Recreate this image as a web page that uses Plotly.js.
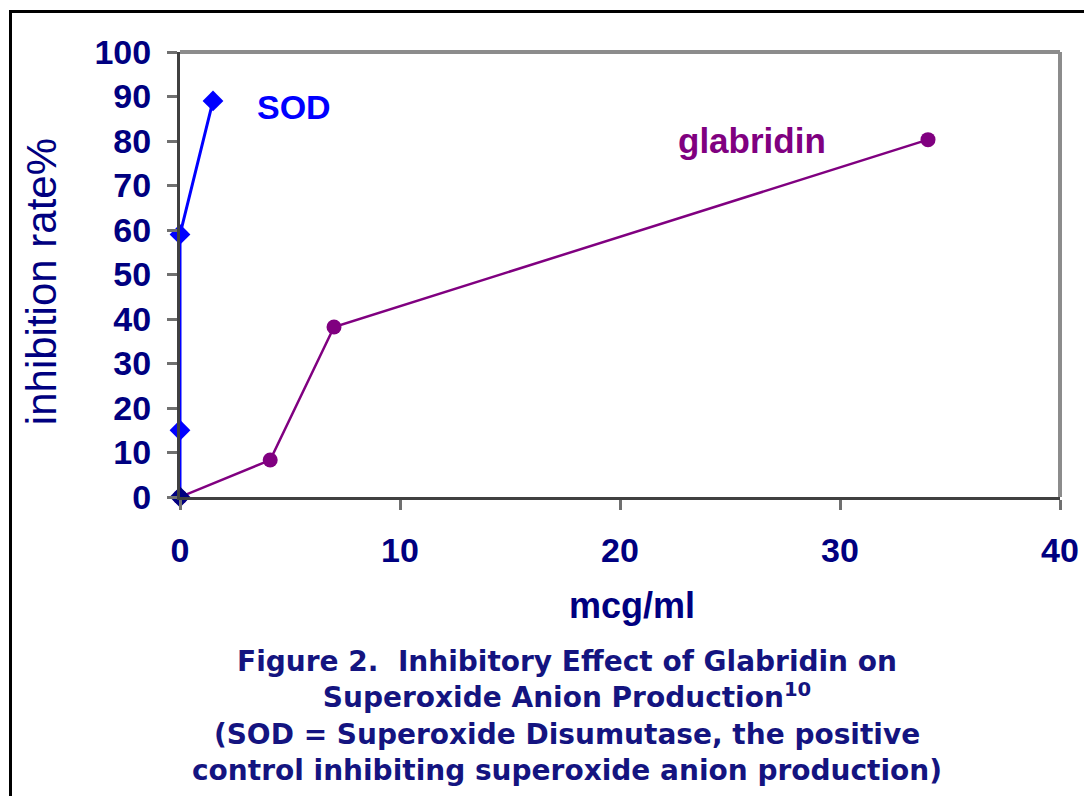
<!DOCTYPE html>
<html>
<head>
<meta charset="utf-8">
<script src="https://cdn.plot.ly/plotly-3.0.1.min.js"></script>
<style>
  html, body { margin: 0; padding: 0; background: #fff; }
  #wrap { position: relative; width: 1084px; height: 796px; overflow: hidden; }
  #chart { position: absolute; left: 0; top: 0; width: 1084px; height: 796px; }
  #frame { position: absolute; left: 9px; top: 10px; width: 1100px; height: 800px;
           border-top: 3px solid #000; border-left: 3px solid #000; pointer-events: none; }
</style>
</head>
<body>
<div id="wrap">
  <div id="chart"></div>
  <div id="frame"></div>
</div>
<script>
// Data
const sodX = [0, 0, 0, 1.5];
const sodY = [0, 15, 59, 89];
const glabX = [0, 4.1, 7, 34];
const glabY = [0, 8.3, 38.2, 80.3];
const xTicks = [0, 10, 20, 30, 40];
const yTicks = [0, 10, 20, 30, 40, 50, 60, 70, 80, 90, 100];

const NAVY = '#000080';
const BLUE = '#0000ff';
const PURPLE = '#800080';

const sodMarkerColors = sodX.map((_, i) => i === 0 ? NAVY : BLUE);

const traces = [
  {
    x: glabX, y: glabY, type: 'scatter', mode: 'lines+markers', name: 'glabridin',
    line: { color: PURPLE, width: 2.5 },
    marker: { color: PURPLE, size: 15, symbol: 'circle' },
    cliponaxis: false
  },
  {
    x: sodX, y: sodY, type: 'scatter', mode: 'lines+markers', name: 'SOD',
    line: { color: BLUE, width: 3 },
    marker: { color: sodMarkerColors, size: 16, symbol: 'diamond' },
    cliponaxis: false
  }
];

const SANS = 'Liberation Sans, Arial, sans-serif';
const tickFont = { family: SANS, size: 34, color: NAVY, weight: 'bold' };

const layout = {
  width: 1084, height: 796,
  margin: { l: 180, r: 24, t: 52, b: 299 },
  paper_bgcolor: '#ffffff', plot_bgcolor: '#ffffff',
  showlegend: false,
  xaxis: {
    range: [0, 40], tickvals: xTicks, ticktext: xTicks.map(String),
    showgrid: false, zeroline: false,
    showline: true, linecolor: '#404040', linewidth: 3,
    ticks: 'outside', ticklen: 10, tickwidth: 3, tickcolor: '#707070',
    tickfont: tickFont, ticklabelstandoff: 11,
    fixedrange: true
  },
  yaxis: {
    range: [0, 100], tickvals: yTicks, ticktext: yTicks.map(String),
    showgrid: false, zeroline: false,
    showline: true, linecolor: '#404040', linewidth: 3,
    ticks: 'outside', ticklen: 10, tickwidth: 3, tickcolor: '#707070',
    tickfont: tickFont, ticklabelstandoff: 9,
    fixedrange: true
  },
  shapes: [
    { type: 'line', xref: 'paper', yref: 'paper', x0: 0, x1: 1, y0: 1, y1: 1, line: { color: '#8c8c8c', width: 4 } },
    { type: 'line', xref: 'paper', yref: 'paper', x0: 1, x1: 1, y0: 0, y1: 1, line: { color: '#8c8c8c', width: 4 } }
  ],
  annotations: [
    { x: -0.158, y: 0.485, xref: 'paper', yref: 'paper', xanchor: 'center', yanchor: 'middle',
      textangle: -90, text: 'inhibition rate%', showarrow: false,
      font: { family: SANS, size: 42, color: NAVY } },
    { x: 0.514, y: -0.243, xref: 'paper', yref: 'paper', xanchor: 'center', yanchor: 'middle',
      text: '<b>mcg/ml</b>', showarrow: false,
      font: { family: SANS, size: 36, color: NAVY } },
    { x: 5.2, y: 87.6, xref: 'x', yref: 'y', text: '<b>SOD</b>', showarrow: false,
      font: { family: SANS, size: 34, color: BLUE } },
    { x: 26, y: 80.2, xref: 'x', yref: 'y', text: '<b>glabridin</b>', showarrow: false,
      font: { family: SANS, size: 35, color: PURPLE } },
    { x: 0.44, y: -0.328, xref: 'paper', yref: 'paper', yanchor: 'top', showarrow: false, align: 'center',
      text: 'Figure 2.  Inhibitory Effect of Glabridin on<br>Superoxide Anion Production<sup>10</sup><br>(SOD = Superoxide Disumutase, the positive<br>control inhibiting superoxide anion production)',
      font: { family: 'DejaVu Sans, Verdana, sans-serif', size: 28, color: '#141480', weight: 'bold' } }
  ]
};

Plotly.newPlot('chart', traces, layout, { displayModeBar: false, staticPlot: true });
</script>
</body>
</html>
